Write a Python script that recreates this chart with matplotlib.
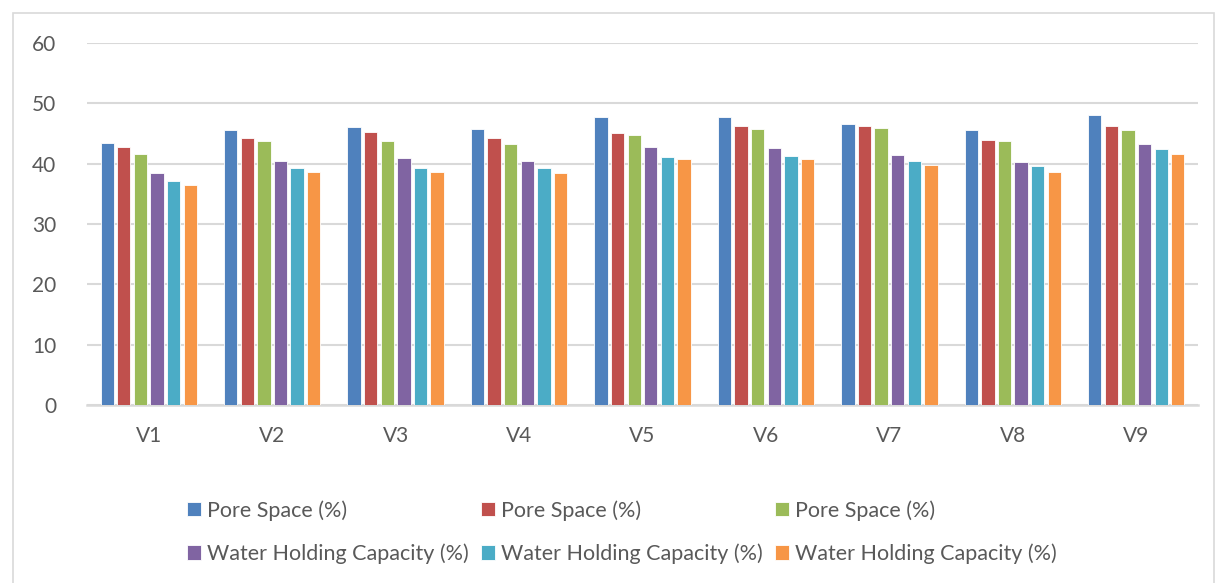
# Pore space / water holding capacity by variety, Excel-style grouped bars
import numpy as np
import matplotlib.pyplot as plt
from matplotlib.patches import Rectangle

categories = ["V1", "V2", "V3", "V4", "V5", "V6", "V7", "V8", "V9"]
pore_1 = [43.5, 45.6, 46.0, 45.7, 47.8, 47.7, 46.6, 45.5, 48.1]
pore_2 = [42.7, 44.2, 45.3, 44.3, 45.1, 46.2, 46.2, 44.0, 46.3]
pore_3 = [41.6, 43.7, 43.7, 43.3, 44.7, 45.7, 45.9, 43.7, 45.6]
whc_1 = [38.4, 40.5, 40.9, 40.5, 42.7, 42.6, 41.5, 40.3, 43.3]
whc_2 = [37.1, 39.2, 39.3, 39.3, 41.1, 41.2, 40.4, 39.6, 42.4]
whc_3 = [36.5, 38.7, 38.7, 38.4, 40.7, 40.7, 39.8, 38.7, 41.6]
series_labels = ["Pore Space (%)"] * 3 + ["Water Holding Capacity (%)"] * 3
colors = ["#4F81BD", "#C0504D", "#9BBB59", "#8064A2", "#4BACC6", "#F79646"]

plt.rcParams['font.family'] = ['Lato', 'DejaVu Sans']
text_col = "#595959"

fig = plt.figure(figsize=(12.17, 5.83), dpi=100)
ax = fig.add_axes([87 / 1217, 1 - 405 / 583, 1111 / 1217, 362 / 583])

# рамка вокруг всей диаграммы
fig.patches.append(Rectangle((13 / 1217, -0.01), 1201 / 1217, 1 - 13 / 583 + 0.01,
                             transform=fig.transFigure, fill=False,
                             edgecolor="#d9d9d9", linewidth=1.2))

x = np.arange(len(categories))
slot = 0.1345
all_series = [pore_1, pore_2, pore_3, whc_1, whc_2, whc_3]
handles = []
for i, vals in enumerate(all_series):
    b = ax.bar(x + (i - 2.5) * slot, vals, width=0.108, color=colors[i],
               edgecolor="white", linewidth=0.6, label=series_labels[i], zorder=3)
    handles.append(b)

ax.set_xlim(-0.5, len(categories) - 0.5)
ax.set_ylim(0, 60)
ax.set_yticks(range(0, 61, 10))
ax.set_xticks(x)
ax.set_xticklabels(categories)
ax.yaxis.grid(True, color="#d9d9d9", linewidth=1.5, zorder=0)
ax.set_axisbelow(True)
for s in ["top", "right", "left"]:
    ax.spines[s].set_visible(False)
ax.spines["bottom"].set_color("#d9d9d9")
ax.spines["bottom"].set_linewidth(1.8)
ax.tick_params(axis="both", length=0, labelsize=15, colors=text_col)
ax.tick_params(axis="y", pad=22)
ax.tick_params(axis="x", pad=15)

# легенда: сначала ряд Pore Space, потом Water Holding Capacity
order = [0, 3, 1, 4, 2, 5]
leg = fig.legend([handles[i] for i in order], [series_labels[i] for i in order],
                 ncol=3, loc="center left", bbox_to_anchor=(176 / 1217, 1 - 532 / 583),
                 frameon=False, fontsize=15.5, handlelength=0.65, handleheight=0.65,
                 handletextpad=0.3, columnspacing=0.55, labelspacing=1.05,
                 borderpad=0)
for t in leg.get_texts():
    t.set_color(text_col)

fig.savefig("out.png", dpi=100)
